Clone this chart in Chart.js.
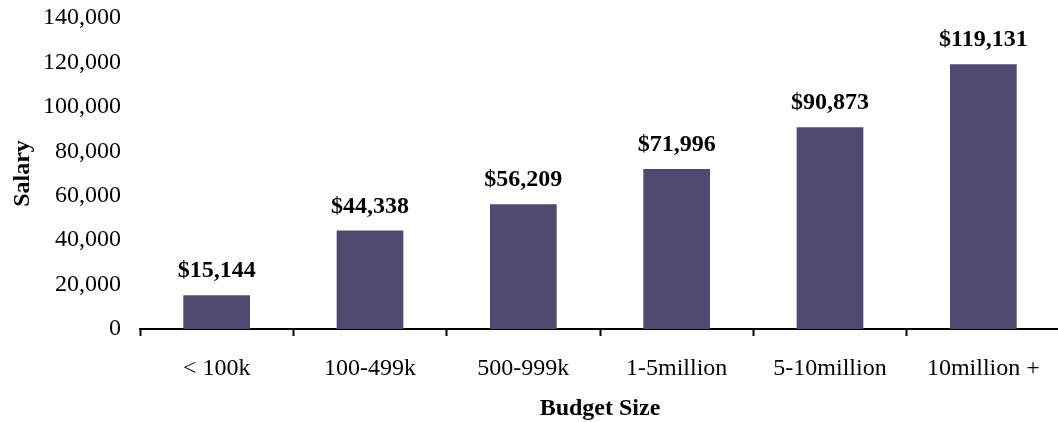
<!DOCTYPE html>
<html>
<head>
<meta charset="utf-8">
<script src="https://cdn.jsdelivr.net/npm/chart.js@4"></script>
<style>
html,body{margin:0;padding:0;background:#fff;overflow:hidden;}
#c{display:block;}
</style>
</head>
<body>
<canvas id="c" width="1060" height="422"></canvas>
<script>
const categories = ['< 100k', '100-499k', '500-999k', '1-5million', '5-10million', '10million +'];
const salaries = [15144, 44338, 56209, 71996, 90873, 119131];
const yTicks = [0, 20000, 40000, 60000, 80000, 100000, 120000, 140000];

const FONT = "'Liberation Serif', 'Times New Roman', serif";

const valueLabels = {
  id: 'valueLabels',
  afterDatasetsDraw(chart) {
    const ctx = chart.ctx;
    const meta = chart.getDatasetMeta(0);
    ctx.save();
    ctx.font = 'bold 24px ' + FONT;
    ctx.fillStyle = '#000';
    ctx.textAlign = 'center';
    ctx.textBaseline = 'alphabetic';
    meta.data.forEach((bar, i) => {
      const v = chart.data.datasets[0].data[i];
      ctx.fillText('$' + v.toLocaleString('en-US'), bar.x, bar.y - 18);
    });
    ctx.restore();
  }
};

new Chart(document.getElementById('c'), {
  type: 'bar',
  data: {
    labels: categories,
    datasets: [{
      data: salaries,
      backgroundColor: '#4f4a70',
      borderWidth: 0,
      barPercentage: 0.435,
      categoryPercentage: 1.0
    }]
  },
  options: {
    responsive: false,
    animation: false,
    devicePixelRatio: 1,
    layout: { padding: { top: 18, right: 0, bottom: 0, left: 0 } },
    plugins: { legend: { display: false }, tooltip: { enabled: false } },
    scales: {
      x: {
        grid: {
          display: true,
          drawOnChartArea: false,
          drawTicks: true,
          tickLength: 7,
          tickWidth: 2,
          tickColor: '#000',
          offset: true
        },
        border: { display: true, color: '#000', width: 2 },
        ticks: {
          color: '#000',
          font: { family: FONT, size: 24 },
          padding: 18,
          maxRotation: 0,
          autoSkip: false
        },
        title: {
          display: true,
          text: 'Budget Size',
          color: '#000',
          font: { family: FONT, size: 24, weight: 'bold' },
          padding: { top: 0, bottom: -1 }
        },
        afterFit(scale) {
          scale.height = 93;
          scale.paddingLeft = 0; scale.paddingRight = 0;
          scale.paddingTop = 0; scale.paddingBottom = 0;
        }
      },
      y: {
        min: 0,
        max: 140000,
        afterBuildTicks(scale) { scale.ticks = yTicks.map(v => ({ value: v })); },
        grid: { display: false, drawTicks: false },
        border: { display: false },
        ticks: {
          color: '#000',
          font: { family: FONT, size: 24 },
          padding: 19,
          callback: v => Number(v).toLocaleString('en-US')
        },
        title: {
          display: true,
          text: 'Salary',
          color: '#000',
          font: { family: FONT, size: 24, weight: 'bold' },
          padding: { top: 8, bottom: 0 }
        },
        afterFit(scale) {
          scale.width = 140;
          scale.paddingTop = 0; scale.paddingBottom = 0;
          scale.paddingLeft = 0; scale.paddingRight = 0;
        }
      }
    }
  },
  plugins: [valueLabels]
});
</script>
</body>
</html>
